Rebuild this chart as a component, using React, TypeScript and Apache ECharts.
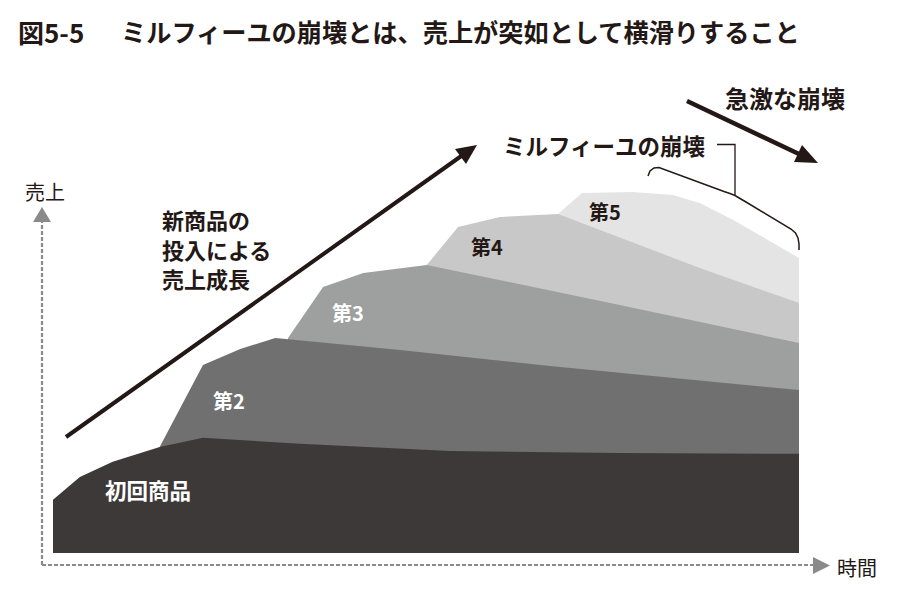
import React, { useEffect, useRef } from "react";
import * as echarts from "echarts";

// ---- data (time on x: 0–100, sales on y: 0–100) ----
const layerNames = ["初回商品", "第2", "第3", "第4", "第5"];
const firstProduct = [[0, 13.3], [3.6, 19.0], [8.0, 22.8], [14.3, 26.5], [20.1, 28.8], [33.1, 27.3], [53.2, 25.5], [76.0, 25.0], [100, 24.8]];
const secondProduct = [[14.3, 26.5], [20.1, 47.0], [25.1, 51.0], [29.8, 53.75], [46.5, 50.75], [66.6, 46.75], [100, 40.75]];
const thirdProduct = [[31.5, 53.75], [36.2, 66.5], [41.6, 70.0], [50.1, 72.0], [74.7, 62.5], [100, 52.5]];
const fourthProduct = [[50.1, 72.0], [54.3, 81.5], [59.9, 84.0], [67.7, 84.75], [86.7, 71.25], [100, 62.5]];
const fifthProduct = [[67.7, 84.75], [70.9, 90.0], [77.7, 90.25], [83.1, 89.5], [86.7, 87.5], [91.2, 83.25], [100, 73.75]];
const layerData = [firstProduct, secondProduct, thirdProduct, fourthProduct, fifthProduct];
const layerColors = ["#3e3939", "#707070", "#9e9f9f", "#c8c8c8", "#e4e4e4"];

const titleNumber = "図5-5";
const titleText = "ミルフィーユの崩壊とは、売上が突如として横滑りすること";
const growthText = ["新商品の", "投入による", "売上成長"];
const milleText = "ミルフィーユの崩壊";
const collapseText = "急激な崩壊";
const yName = "売上";
const xName = "時間";

const FONT = "'Noto Sans CJK JP', 'Noto Sans', sans-serif";
const INK = "#231815";
const AXIS = "#8a8a8a";

function txt(text: string, x: number, y: number, size: number, fill: string, weight = "bold") {
  return {
    type: "text",
    x,
    y,
    silent: true,
    z: 100,
    style: {
      text,
      fill,
      fontSize: size,
      fontWeight: weight,
      fontFamily: FONT,
      align: "left",
      verticalAlign: "middle",
      textAlign: "left",
      textVerticalAlign: "middle",
    },
  };
}

export default function App() {
  const ref = useRef<HTMLDivElement>(null);
  useEffect(() => {
    if (!ref.current) return;
    const chart = echarts.init(ref.current, undefined, { renderer: "svg" });

    const series = layerData
      .map((d, i) => ({
        type: "line",
        name: layerNames[i],
        data: d,
        symbol: "none",
        smooth: false,
        silent: true,
        lineStyle: { width: 0 },
        areaStyle: { color: layerColors[i], opacity: 1 },
        z: 10 - i,
      }))
      .reverse();

    const graphic: any[] = [
      txt(titleNumber, 18, 31, 26, INK, "bold"),
      txt(titleText, 121, 31, 25.2, INK, "bold"),
      // layer labels
      txt(layerNames[0], 105, 489, 21.5, "#ffffff"),
      txt(layerNames[1], 213, 400, 20, "#ffffff"),
      txt(layerNames[2], 332, 312, 20, "#ffffff"),
      txt(layerNames[3], 471, 246, 20, INK),
      txt(layerNames[4], 589, 211, 20, INK),
      // growth annotation
      txt(growthText[0], 162, 219, 22, INK),
      txt(growthText[1], 162, 248.5, 22, INK),
      txt(growthText[2], 162, 278, 22, INK),
      txt(milleText, 503, 145, 22.5, INK),
      txt(collapseText, 725, 97, 24, INK),
      // axis names
      txt(yName, 25, 191, 20, INK, "normal"),
      txt(xName, 837, 567, 20, INK, "normal"),
      // axes
      {
        type: "line",
        silent: true,
        z: 50,
        shape: { x1: 42, y1: 565, x2: 814, y2: 565 },
        style: { stroke: AXIS, lineWidth: 2.2, lineDash: [4, 2] },
      },
      {
        type: "line",
        silent: true,
        z: 50,
        shape: { x1: 42, y1: 565, x2: 42, y2: 221 },
        style: { stroke: AXIS, lineWidth: 2.2, lineDash: [4, 2] },
      },
      {
        type: "polygon",
        silent: true,
        z: 50,
        shape: { points: [[813, 557], [830, 565.5], [813, 574]] },
        style: { fill: AXIS },
      },
      {
        type: "polygon",
        silent: true,
        z: 50,
        shape: { points: [[33, 222], [42, 207], [51, 222]] },
        style: { fill: AXIS },
      },
      // growth arrow
      {
        type: "line",
        silent: true,
        z: 60,
        shape: { x1: 66, y1: 437, x2: 462, y2: 155.5 },
        style: { stroke: INK, lineWidth: 4 },
      },
      {
        type: "polygon",
        silent: true,
        z: 60,
        shape: { points: [[477, 145], [466, 164], [455, 149]] },
        style: { fill: INK },
      },
      // collapse arrow
      {
        type: "line",
        silent: true,
        z: 60,
        shape: { x1: 687, y1: 101, x2: 800, y2: 154.5 },
        style: { stroke: INK, lineWidth: 4.5 },
      },
      {
        type: "polygon",
        silent: true,
        z: 60,
        shape: { points: [[818, 163], [794, 162], [802, 145]] },
        style: { fill: INK },
      },
      // leader + brace
      {
        type: "polyline",
        silent: true,
        z: 60,
        shape: { points: [[717, 144.5], [735, 144.5], [735, 195]] },
        style: { stroke: INK, lineWidth: 1.3, fill: null },
      },
      {
        type: "polyline",
        silent: true,
        z: 60,
        shape: {
          points: [
            [648, 176], [650, 171], [654, 168], [659, 167.5], [724, 191.5], [730, 193.5], [735, 195.5],
          ],
        },
        style: { stroke: INK, lineWidth: 1.5, fill: null },
      },
      {
        type: "polyline",
        silent: true,
        z: 60,
        shape: {
          points: [
            [735, 195.5], [740, 198.5], [746, 202], [791, 229], [795.5, 233], [798, 238], [799, 244], [799, 250],
          ],
        },
        style: { stroke: INK, lineWidth: 1.5, fill: null },
      },
    ];

    chart.setOption({
      animation: false,
      backgroundColor: "#ffffff",
      grid: { left: 53, right: 101, top: 153, bottom: 50 },
      xAxis: { type: "value", min: 0, max: 100, show: false },
      yAxis: { type: "value", min: 0, max: 100, show: false },
      series,
      graphic,
    });
    return () => chart.dispose();
  }, []);
  return (
    <div
      ref={ref}
      style={{ position: "absolute", left: 0, top: 0, width: 900, height: 603, background: "#fff" }}
    />
  );
}
